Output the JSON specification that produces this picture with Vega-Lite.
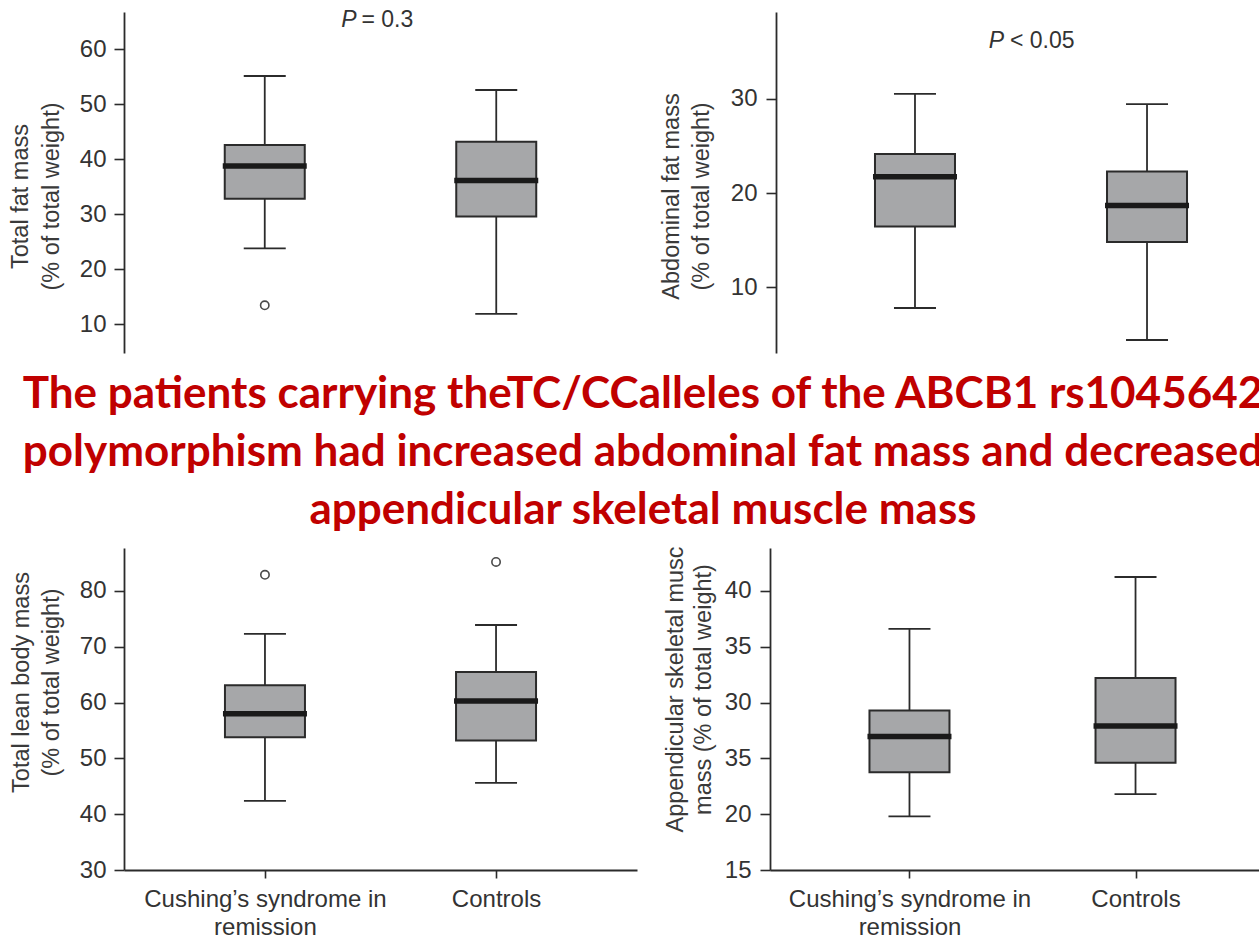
{
  "$schema": "https://vega.github.io/schema/vega-lite/v6.json",
  "autosize": "none",
  "padding": {"left": 124, "top": 12, "right": 1135, "bottom": 925},
  "background": "white",
  "spacing": 0,
  "datasets": {
    "totalFat": [
      {"group": "Cushing’s syndrome in remission", "lo": 23.8, "q1": 32.8, "median": 38.75, "q3": 42.55, "hi": 55.1},
      {"group": "Controls", "lo": 11.9, "q1": 29.6, "median": 36.1, "q3": 43.15, "hi": 52.55}
    ],
    "totalFatOutliers": [
      {"group": "Cushing’s syndrome in remission", "value": 13.45}
    ],
    "abdominalFat": [
      {"group": "Cushing’s syndrome in remission", "lo": 7.8, "q1": 16.45, "median": 21.75, "q3": 24.15, "hi": 30.55},
      {"group": "Controls", "lo": 4.4, "q1": 14.8, "median": 18.7, "q3": 22.3, "hi": 29.45}
    ],
    "leanMass": [
      {"group": "Cushing’s syndrome in remission", "lo": 42.4, "q1": 53.8, "median": 58.0, "q3": 63.1, "hi": 72.3},
      {"group": "Controls", "lo": 45.6, "q1": 53.2, "median": 60.3, "q3": 65.5, "hi": 73.9}
    ],
    "leanMassOutliers": [
      {"group": "Cushing’s syndrome in remission", "value": 82.9},
      {"group": "Controls", "value": 85.2}
    ],
    "appendicularMuscle": [
      {"group": "Cushing’s syndrome in remission", "lo": 19.8, "q1": 23.75, "median": 26.95, "q3": 29.3, "hi": 36.6},
      {"group": "Controls", "lo": 21.8, "q1": 24.6, "median": 27.9, "q3": 32.2, "hi": 41.25}
    ],
    "headline": [
      {"line": 1, "text": "The patients carrying theTC/CCalleles of the ABCB1 rs1045642"},
      {"line": 2, "text": "polymorphism had increased abdominal fat mass and decreased"},
      {"line": 3, "text": "appendicular skeletal muscle mass"}
    ]
  },
  "vconcat": [
    {
      "bounds": "flush",
      "spacing": 139,
      "hconcat": [
        {
          "width": 513,
          "height": 341,
          "layer": [
            {
              "data": {"name": "totalFat"},
              "encoding": {
                "x": {"field": "group", "type": "nominal", "sort": ["Cushing’s syndrome in remission", "Controls"], "scale": {"type": "point", "padding": 0.608}, "axis": null}
              },
              "layer": [
                {
                  "mark": {"type": "rule", "stroke": "#2b2b2b", "strokeWidth": 1.8},
                  "encoding": {
                    "y": {"field": "lo", "type": "quantitative", "scale": {"domain": [4.79, 66.72], "nice": false, "zero": false},
                      "axis": {"title": ["Total fat mass", "(% of total weight)"], "values": [10, 20, 30, 40, 50, 60], "tickSize": 10, "labelPadding": 8, "titleX": -97, "titleY": 184, "titleBaseline": "alphabetic", "titleLineHeight": 31}},
                    "y2": {"field": "hi"}
                  }
                },
                {"mark": {"type": "tick", "size": 42, "thickness": 1.8, "color": "#2b2b2b", "opacity": 1},
                  "encoding": {"y": {"field": "lo", "type": "quantitative", "scale": {"domain": [4.79, 66.72], "nice": false, "zero": false}}}},
                {"mark": {"type": "tick", "size": 42, "thickness": 1.8, "color": "#2b2b2b", "opacity": 1},
                  "encoding": {"y": {"field": "hi", "type": "quantitative", "scale": {"domain": [4.79, 66.72], "nice": false, "zero": false}}}},
                {"mark": {"type": "bar", "width": 80, "fill": "#a6a7a9", "stroke": "#2b2b2b", "strokeWidth": 2},
                  "encoding": {"y": {"field": "q1", "type": "quantitative", "scale": {"domain": [4.79, 66.72], "nice": false, "zero": false}}, "y2": {"field": "q3"}}},
                {"mark": {"type": "tick", "size": 84, "thickness": 5.5, "color": "#1a1a1a", "opacity": 1},
                  "encoding": {"y": {"field": "median", "type": "quantitative", "scale": {"domain": [4.79, 66.72], "nice": false, "zero": false}}}}
              ]
            },
            {
              "data": {"name": "totalFatOutliers"},
              "mark": {"type": "point", "shape": "circle", "size": 70, "filled": false, "stroke": "#4a4a4a", "strokeWidth": 1.6, "opacity": 1},
              "encoding": {
                "x": {"field": "group", "type": "nominal", "sort": ["Cushing’s syndrome in remission", "Controls"], "scale": {"type": "point", "padding": 0.608}, "axis": null},
                "y": {"field": "value", "type": "quantitative", "scale": {"domain": [4.79, 66.72], "nice": false, "zero": false}}
              }
            },
            {
              "data": {"values": [{"symbol": "P", "rest": "= 0.3", "y": 64.0}]},
              "encoding": {"y": {"field": "y", "type": "quantitative", "scale": {"domain": [4.79, 66.72], "nice": false, "zero": false}}},
              "layer": [
                {"mark": {"type": "text", "align": "right", "baseline": "alphabetic", "dx": -24, "fontStyle": "italic", "fontSize": 23, "color": "#333333"}, "encoding": {"text": {"field": "symbol"}}},
                {"mark": {"type": "text", "align": "left", "baseline": "alphabetic", "dx": -19, "fontSize": 23, "color": "#333333"}, "encoding": {"text": {"field": "rest"}}}
              ]
            }
          ]
        },
        {
          "width": 510,
          "height": 341,
          "layer": [
            {
              "data": {"name": "abdominalFat"},
              "encoding": {
                "x": {"field": "group", "type": "nominal", "sort": ["Cushing’s syndrome in remission", "Controls"], "scale": {"type": "point", "padding": 0.599}, "axis": null}
              },
              "layer": [
                {
                  "mark": {"type": "rule", "stroke": "#2b2b2b", "strokeWidth": 1.8},
                  "encoding": {
                    "y": {"field": "lo", "type": "quantitative", "scale": {"domain": [3.02, 39.24], "nice": false, "zero": false},
                      "axis": {"title": ["Abdominal fat mass", "(% of total weight)"], "values": [10, 20, 30], "tickSize": 10, "labelPadding": 9, "titleX": -98, "titleY": 184, "titleBaseline": "alphabetic", "titleLineHeight": 30}},
                    "y2": {"field": "hi"}
                  }
                },
                {"mark": {"type": "tick", "size": 42, "thickness": 1.8, "color": "#2b2b2b", "opacity": 1},
                  "encoding": {"y": {"field": "lo", "type": "quantitative", "scale": {"domain": [3.02, 39.24], "nice": false, "zero": false}}}},
                {"mark": {"type": "tick", "size": 42, "thickness": 1.8, "color": "#2b2b2b", "opacity": 1},
                  "encoding": {"y": {"field": "hi", "type": "quantitative", "scale": {"domain": [3.02, 39.24], "nice": false, "zero": false}}}},
                {"mark": {"type": "bar", "width": 80, "fill": "#a6a7a9", "stroke": "#2b2b2b", "strokeWidth": 2},
                  "encoding": {"y": {"field": "q1", "type": "quantitative", "scale": {"domain": [3.02, 39.24], "nice": false, "zero": false}}, "y2": {"field": "q3"}}},
                {"mark": {"type": "tick", "size": 84, "thickness": 5.5, "color": "#1a1a1a", "opacity": 1},
                  "encoding": {"y": {"field": "median", "type": "quantitative", "scale": {"domain": [3.02, 39.24], "nice": false, "zero": false}}}}
              ]
            },
            {
              "data": {"values": [{"symbol": "P", "rest": "< 0.05", "y": 35.4}]},
              "encoding": {"y": {"field": "y", "type": "quantitative", "scale": {"domain": [3.02, 39.24], "nice": false, "zero": false}}},
              "layer": [
                {"mark": {"type": "text", "align": "right", "baseline": "alphabetic", "dx": -27, "fontStyle": "italic", "fontSize": 23, "color": "#333333"}, "encoding": {"text": {"field": "symbol"}}},
                {"mark": {"type": "text", "align": "left", "baseline": "alphabetic", "dx": -21, "fontSize": 23, "color": "#333333"}, "encoding": {"text": {"field": "rest"}}}
              ]
            }
          ]
        }
      ]
    },
    {
      "width": 1038,
      "height": 192,
      "data": {"name": "headline"},
      "mark": {"type": "text", "font": "Lato", "fontWeight": "bold", "fontSize": 44, "color": "#c00000", "align": "center", "baseline": "alphabetic"},
      "encoding": {
        "y": {"field": "line", "type": "ordinal", "scale": {"type": "point", "padding": 0.655, "align": 0.72}, "axis": null},
        "text": {"field": "text"}
      }
    },
    {
      "bounds": "flush",
      "spacing": 133,
      "hconcat": [
        {
          "width": 513,
          "height": 322,
          "layer": [
            {
              "data": {"name": "leanMass"},
              "encoding": {
                "x": {"field": "group", "type": "nominal", "sort": ["Cushing’s syndrome in remission", "Controls"], "scale": {"type": "point", "padding": 0.61},
                  "axis": {"title": null, "labelAngle": 0, "labelExpr": "split(replace(datum.label, 'in remission', 'in|remission'), '|')", "tickSize": 8, "labelPadding": 9, "labelLineHeight": 28}}
              },
              "layer": [
                {
                  "mark": {"type": "rule", "stroke": "#2b2b2b", "strokeWidth": 1.8},
                  "encoding": {
                    "y": {"field": "lo", "type": "quantitative", "scale": {"domain": [30, 87.7], "nice": false, "zero": false},
                      "axis": {"title": ["Total lean body mass", "(% of total weight)"], "values": [30, 40, 50, 60, 70, 80], "tickSize": 10, "labelPadding": 8, "titleX": -96, "titleY": 134, "titleBaseline": "alphabetic", "titleLineHeight": 30}},
                    "y2": {"field": "hi"}
                  }
                },
                {"mark": {"type": "tick", "size": 42, "thickness": 1.8, "color": "#2b2b2b", "opacity": 1},
                  "encoding": {"y": {"field": "lo", "type": "quantitative", "scale": {"domain": [30, 87.7], "nice": false, "zero": false}}}},
                {"mark": {"type": "tick", "size": 42, "thickness": 1.8, "color": "#2b2b2b", "opacity": 1},
                  "encoding": {"y": {"field": "hi", "type": "quantitative", "scale": {"domain": [30, 87.7], "nice": false, "zero": false}}}},
                {"mark": {"type": "bar", "width": 80, "fill": "#a6a7a9", "stroke": "#2b2b2b", "strokeWidth": 2},
                  "encoding": {"y": {"field": "q1", "type": "quantitative", "scale": {"domain": [30, 87.7], "nice": false, "zero": false}}, "y2": {"field": "q3"}}},
                {"mark": {"type": "tick", "size": 84, "thickness": 5.5, "color": "#1a1a1a", "opacity": 1},
                  "encoding": {"y": {"field": "median", "type": "quantitative", "scale": {"domain": [30, 87.7], "nice": false, "zero": false}}}}
              ]
            },
            {
              "data": {"name": "leanMassOutliers"},
              "mark": {"type": "point", "shape": "circle", "size": 70, "filled": false, "stroke": "#4a4a4a", "strokeWidth": 1.6, "opacity": 1},
              "encoding": {
                "x": {"field": "group", "type": "nominal", "sort": ["Cushing’s syndrome in remission", "Controls"], "scale": {"type": "point", "padding": 0.61}},
                "y": {"field": "value", "type": "quantitative", "scale": {"domain": [30, 87.7], "nice": false, "zero": false}}
              }
            }
          ]
        },
        {
          "width": 505,
          "height": 322,
          "data": {"name": "appendicularMuscle"},
          "encoding": {
            "x": {"field": "group", "type": "nominal", "sort": ["Cushing’s syndrome in remission", "Controls"], "scale": {"type": "point", "padding": 0.617},
              "axis": {"title": null, "labelAngle": 0, "labelExpr": "split(replace(datum.label, 'in remission', 'in|remission'), '|')", "tickSize": 8, "labelPadding": 9, "labelLineHeight": 28}}
          },
          "layer": [
            {
              "mark": {"type": "rule", "stroke": "#2b2b2b", "strokeWidth": 1.8},
              "encoding": {
                "y": {"field": "lo", "type": "quantitative", "scale": {"domain": [15, 43.85], "nice": false, "zero": false},
                  "axis": {"title": ["Appendicular skeletal musc", "mass (% of total weight)"], "values": [15, 20, 25, 30, 35, 40], "labelExpr": "datum.value == 25 ? '35' : datum.label", "tickSize": 10, "labelPadding": 9, "titleX": -88, "titleY": 141, "titleBaseline": "alphabetic", "titleLineHeight": 28}},
                "y2": {"field": "hi"}
              }
            },
            {"mark": {"type": "tick", "size": 42, "thickness": 1.8, "color": "#2b2b2b", "opacity": 1},
              "encoding": {"y": {"field": "lo", "type": "quantitative", "scale": {"domain": [15, 43.85], "nice": false, "zero": false}}}},
            {"mark": {"type": "tick", "size": 42, "thickness": 1.8, "color": "#2b2b2b", "opacity": 1},
              "encoding": {"y": {"field": "hi", "type": "quantitative", "scale": {"domain": [15, 43.85], "nice": false, "zero": false}}}},
            {"mark": {"type": "bar", "width": 80, "fill": "#a6a7a9", "stroke": "#2b2b2b", "strokeWidth": 2},
              "encoding": {"y": {"field": "q1", "type": "quantitative", "scale": {"domain": [15, 43.85], "nice": false, "zero": false}}, "y2": {"field": "q3"}}},
            {"mark": {"type": "tick", "size": 84, "thickness": 5.5, "color": "#1a1a1a", "opacity": 1},
              "encoding": {"y": {"field": "median", "type": "quantitative", "scale": {"domain": [15, 43.85], "nice": false, "zero": false}}}}
          ]
        }
      ]
    }
  ],
  "config": {
    "view": {"stroke": null},
    "axis": {
      "grid": false,
      "domainColor": "#2b2b2b",
      "domainWidth": 1.8,
      "tickColor": "#2b2b2b",
      "tickWidth": 1.6,
      "labelFont": "Liberation Sans",
      "labelFontSize": 24,
      "labelColor": "#333333",
      "labelLimit": 0,
      "titleFont": "Liberation Sans",
      "titleFontSize": 23.5,
      "titleFontWeight": "normal",
      "titleColor": "#3a3a3a"
    },
    "text": {"font": "Liberation Sans"}
  }
}
